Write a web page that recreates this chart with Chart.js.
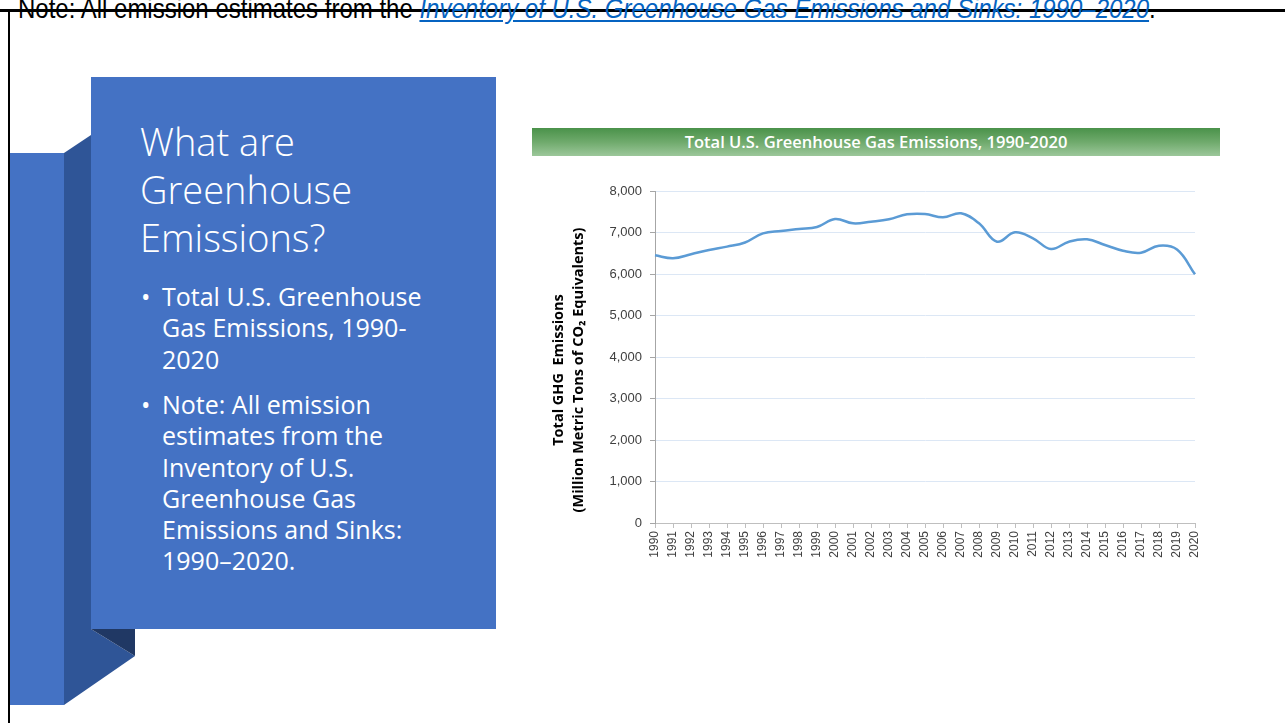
<!DOCTYPE html>
<html>
<head>
<meta charset="utf-8">
<script src="https://cdn.jsdelivr.net/npm/chart.js@4.4.0/dist/chart.umd.min.js"></script>
<style>
  html, body { margin: 0; padding: 0; background: #fff; }
  body { width: 1285px; height: 723px; position: relative; overflow: hidden; font-family: "Open Sans", "Noto Sans", sans-serif; }
  .topnote { position: absolute; left: 18px; top: -7px; font-family: "Liberation Sans", Arial, sans-serif; font-size: 28px; line-height: 32px; color: #000; white-space: nowrap; z-index: 3; transform: scaleX(0.857); transform-origin: 0 0; }
  .topnote a { color: #0563C1; font-style: italic; text-decoration: underline; }
  .topline { position: absolute; left: 0; top: 9px; width: 1285px; height: 3px; background: #000; z-index: 2; }
  .leftline { position: absolute; left: 8px; top: 9px; width: 2px; height: 714px; background: #000; z-index: 2; }
  svg.shapes { position: absolute; left: 0; top: 0; }
  .panel { position: absolute; left: 91px; top: 77px; width: 405px; height: 552px; background: #4472C4; }
  .heading { position: absolute; left: 140px; top: 117px; color: #fff; font-family: "Open Sans", sans-serif; font-weight: 300; font-size: 38px; line-height: 48px; white-space: nowrap; }
  .bullets { position: absolute; left: 162px; color: #fff; font-family: "Open Sans", sans-serif; font-size: 25px; line-height: 31.3px; white-space: nowrap; }
  .bullets .dot { position: absolute; left: -21px; top: 0; }
  .titlebar { position: absolute; left: 532px; top: 128px; width: 688px; height: 28px; background: linear-gradient(to bottom, #4A924A 0%, #6FAA6C 50%, #9CC79A 100%); color: #fff; font-family: "Open Sans", sans-serif; font-weight: 600; font-size: 16.5px; line-height: 28px; text-align: center; }
  .chartbox { position: absolute; left: 530px; top: 170px; width: 690px; height: 400px; }
</style>
</head>
<body>
<div class="topline"></div>
<div class="leftline"></div>
<div class="topnote">Note: All emission estimates from the <a>Inventory of U.S. Greenhouse Gas Emissions and Sinks: 1990–2020</a>.</div>

<svg class="shapes" width="1285" height="723">
  <rect x="10" y="153" width="54" height="552" fill="#4472C4"/>
  <polygon points="64,153 91,135 91,629 135,656 64,705" fill="#2F5597"/>
  <polygon points="91,629 135,629 135,656" fill="#203864"/>
</svg>
<div class="panel"></div>
<div class="heading">What are<br>Greenhouse<br>Emissions?</div>
<div class="bullets" style="top:281px;"><span class="dot">•</span>Total U.S. Greenhouse<br>Gas Emissions, 1990-<br>2020</div>
<div class="bullets" style="top:389px;"><span class="dot">•</span>Note: All emission<br>estimates from the<br>Inventory of U.S.<br>Greenhouse Gas<br>Emissions and Sinks:<br>1990–2020.</div>

<div class="titlebar">Total U.S. Greenhouse Gas Emissions, 1990-2020</div>
<div class="chartbox"><canvas id="c" width="690" height="400"></canvas></div>

<script>
const years = ["1990","1991","1992","1993","1994","1995","1996","1997","1998","1999","2000","2001","2002","2003","2004","2005","2006","2007","2008","2009","2010","2011","2012","2013","2014","2015","2016","2017","2018","2019","2020"];
const emissions = [6450, 6380, 6475, 6580, 6660, 6760, 6980, 7036, 7084, 7133, 7325, 7221, 7260, 7318, 7438, 7446, 7366, 7462, 7221, 6779, 7005, 6860, 6602, 6779, 6836, 6699, 6562, 6514, 6682, 6590, 5993];
const yTicksMin = 0, yTicksMax = 8000, yStep = 1000;
const yTitle = ["Total GHG  Emissions", "(Million Metric Tons of CO\u2082 Equivalents)"];

const yTitlePlugin = {
  id: 'yTitle',
  afterDraw(chart) {
    const ctx = chart.ctx;
    const area = chart.chartArea;
    const cy = (area.top + area.bottom) / 2 + 13;
    ctx.save();
    ctx.fillStyle = '#000';
    ctx.font = 'bold 14.5px "Open Sans"';
    ctx.textAlign = 'center';
    ctx.textBaseline = 'middle';
    yTitle.forEach((line, i) => {
      ctx.save();
      ctx.translate(29 + i * 20, cy);
      ctx.rotate(-Math.PI / 2);
      ctx.fillText(line, 0, 0);
      ctx.restore();
    });
    ctx.restore();
  }
};

new Chart(document.getElementById('c'), {
  type: 'line',
  data: {
    labels: years,
    datasets: [{
      data: emissions,
      borderColor: '#5B9BD5',
      borderWidth: 2.5,
      pointRadius: 0,
      tension: 0.4,
      fill: false
    }]
  },
  options: {
    responsive: false,
    animation: false,
    layout: { padding: { left: 0, right: 25, top: 21, bottom: 0 } },
    plugins: { legend: { display: false }, tooltip: { enabled: false } },
    scales: {
      x: {
        offset: false,
        afterFit: s => { s.height = 47; },
        grid: { drawOnChartArea: false, drawTicks: true, tickLength: 5, tickColor: '#BFBFBF' },
        border: { color: '#BFBFBF' },
        ticks: { autoSkip: false, minRotation: 90, maxRotation: 90, padding: 3, color: '#404040', font: { family: 'Liberation Sans', size: 12 } }
      },
      y: {
        min: yTicksMin, max: yTicksMax,
        afterFit: s => { s.width = 125; },
        grid: { color: '#DCE7F5', tickColor: '#A6A6A6', tickLength: 5 },
        border: { color: '#A6A6A6' },
        ticks: { stepSize: yStep, padding: 8, color: '#404040', font: { family: 'Liberation Sans', size: 13 } },
        title: { display: false }
      }
    }
  },
  plugins: [yTitlePlugin]
});
</script>
</body>
</html>
